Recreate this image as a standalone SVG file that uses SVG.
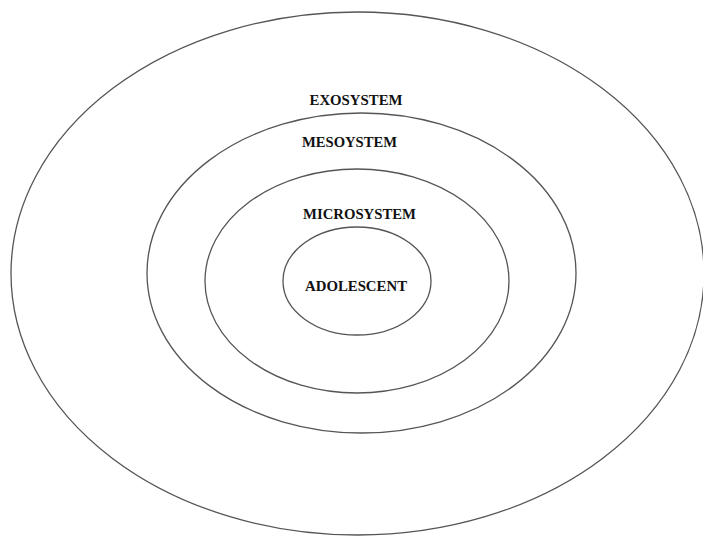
<svg xmlns="http://www.w3.org/2000/svg" width="703" height="538" viewBox="0 0 703 538">
<style>
.ring{fill:none;stroke:#555;stroke-width:1.3}
.lbl{font-family:"Liberation Serif","Times New Roman",serif;font-weight:bold;font-size:14px;fill:#111;text-anchor:middle}
</style>
<rect width="703" height="538" fill="#fff"/>
<g id="exosystem">
<ellipse class="ring" cx="357.5" cy="273.5" rx="346.5" ry="261.5"/>
<text class="lbl" x="356" y="105" textLength="93" lengthAdjust="spacingAndGlyphs">EXOSYSTEM</text>
</g>
<g id="mesosystem">
<ellipse class="ring" cx="361.5" cy="273" rx="214.5" ry="160"/>
<text class="lbl" x="349.5" y="147" textLength="95" lengthAdjust="spacingAndGlyphs">MESOYSTEM</text>
</g>
<g id="microsystem">
<ellipse class="ring" cx="357" cy="281" rx="152" ry="112"/>
<text class="lbl" x="359.5" y="218.5" textLength="113" lengthAdjust="spacingAndGlyphs">MICROSYSTEM</text>
</g>
<g id="adolescent">
<ellipse class="ring" cx="357" cy="281" rx="74" ry="54"/>
<text class="lbl" x="356" y="290.5" textLength="102" lengthAdjust="spacingAndGlyphs">ADOLESCENT</text>
</g>
<g id="connectors"/>
</svg>
